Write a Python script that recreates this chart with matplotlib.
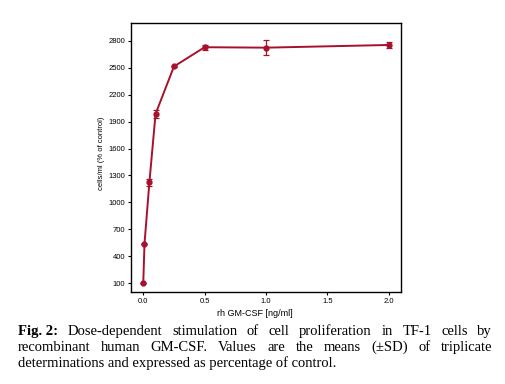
import matplotlib.pyplot as plt
import numpy as np

# dose of rh GM-CSF (ng/ml) and response (% of control)
dose = [0.0, 0.01, 0.05, 0.1, 0.25, 0.5, 1.0, 2.0]
cells = [100, 540, 1225, 1985, 2515, 2730, 2725, 2755]
sd = [0, 0, 40, 40, 10, 30, 85, 35]

xticks = [0.0, 0.5, 1.0, 1.5, 2.0]
yticks = [100, 400, 700, 1000, 1300, 1600, 1900, 2200, 2500, 2800]

caption_lines = [
    ['Fig. 2:', 'Dose-dependent', 'stimulation', 'of', 'cell', 'proliferation', 'in', 'TF-1', 'cells', 'by'],
    ['recombinant', 'human', 'GM-CSF.', 'Values', 'are', 'the', 'means', '(\u00b1SD)', 'of', 'triplicate'],
    ['determinations and expressed as percentage of control.'],
]

col = '#a8102c'

fig = plt.figure(figsize=(5.05, 3.84), dpi=100)
ax = fig.add_axes([0.2594, 0.2396, 0.5347, 0.7005])
ax.errorbar(dose, cells, yerr=sd, color=col, lw=1.4, marker='o', ms=3.5,
            capsize=2.5, elinewidth=0.9, capthick=0.9)
ax.set_xlim(-0.1, 2.1)
ax.set_ylim(0, 3000)
ax.set_xticks(xticks)
ax.set_xticklabels([f'{t:.1f}' for t in xticks])
ax.set_yticks(yticks)
ax.tick_params(labelsize=5.5, length=2.5, width=0.8, pad=1.5)
for s in ax.spines.values():
    s.set_linewidth(1.0)
for lbl in ax.get_xticklabels() + ax.get_yticklabels():
    lbl.set_family('Liberation Sans')
ax.set_xlabel('rh GM-CSF [ng/ml]', fontsize=6.5, family='Liberation Sans')
ax.xaxis.set_label_coords(0.46, -0.063)
ax.set_ylabel('cells/ml (% of control)', fontsize=5.5, family='Liberation Sans')
ax.yaxis.set_label_coords(-0.098, 0.515)

# caption, justified line by line (baselines on whole pixels)
fig.canvas.draw()
r = fig.canvas.get_renderer()
x0, x1 = 18 / 505, 492 / 505
ys = [(384 - 335) / 384, (384 - 351) / 384, (384 - 367) / 384]
for i, words in enumerate(caption_lines):
    arts = []
    for w in words:
        t = fig.text(0, ys[i], w, fontsize=10.5, family='Liberation Serif',
                     weight='bold' if w == 'Fig. 2:' else 'normal', va='baseline')
        arts.append(t)
    widths = [a.get_window_extent(r).width / fig.bbox.width for a in arts]
    gap = (x1 - x0 - sum(widths)) / (len(words) - 1) if len(words) > 1 else 0
    x = x0
    for a, wd in zip(arts, widths):
        a.set_x(x)
        x += wd + gap

fig.savefig('out.png', dpi=100)
